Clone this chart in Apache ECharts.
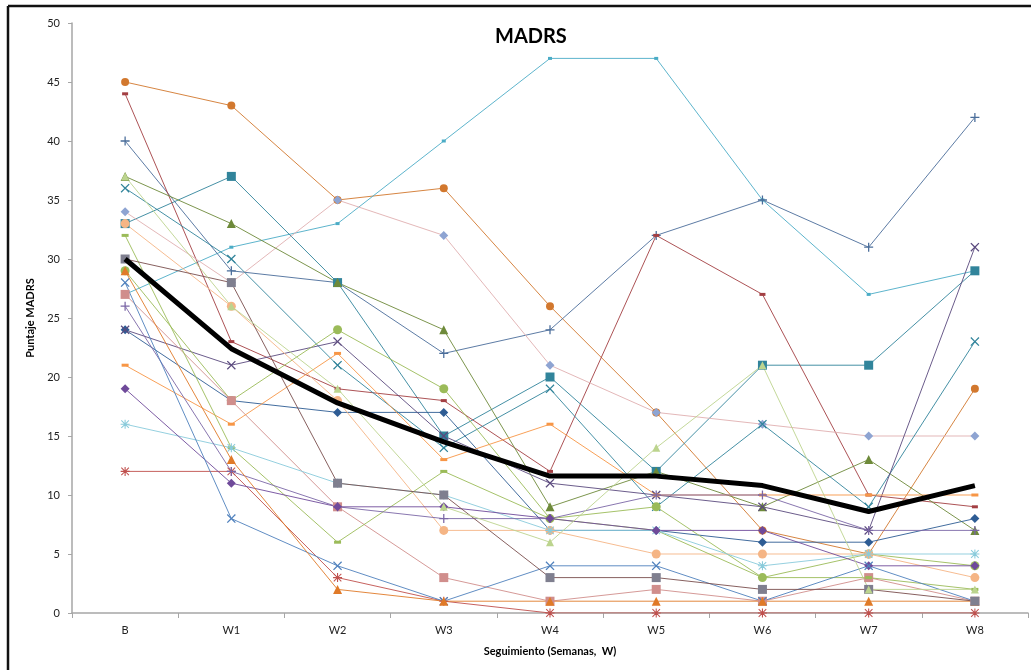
<!DOCTYPE html>
<html>
<head>
<meta charset="utf-8">
<script src="https://cdn.jsdelivr.net/npm/echarts@6/dist/echarts.min.js"></script>
<style>
html,body{margin:0;padding:0;background:#fff;overflow:hidden;}
#chart{width:1031px;height:670px;}
</style>
</head>
<body>
<div id="chart"></div>
<script>
// ---- data ----
const categories = ['B','W1','W2','W3','W4','W5','W6','W7','W8'];
const yTicks = [0,5,10,15,20,25,30,35,40,45,50];

const p01 = [45,43,35,36,26,17,7,5,19];
const p02 = [27,31,33,40,47,47,35,27,29];
const p03 = [40,29,28,22,24,32,35,31,42];
const p04 = [33,37,28,15,20,12,21,21,29];
const p05 = [44,23,19,18,12,32,27,10,9];
const p06 = [34,28,35,32,21,17,16,15,15];
const p07 = [37,33,28,24,9,12,9,13,7];
const p08 = [36,30,21,14,19,9,16,9,23];
const p09 = [24,18,17,17,7,7,6,6,8];
const p10 = [24,21,23,15,11,10,9,7,31];
const p11 = [29,18,24,19,8,9,3,5,4];
const p12 = [27,18,9,3,1,2,1,3,1];
const p13 = [33,26,18,7,7,5,5,5,3];
const p14 = [21,16,22,13,16,10,10,10,10];
const p15 = [32,14,6,12,8,7,3,3,2];
const p16 = [16,14,11,10,7,7,4,5,5];
const p17 = [12,12,3,1,0,0,0,0,0];
const p18 = [26,12,9,8,8,10,10,7,7];
const p19 = [19,11,9,9,8,7,7,4,4];
const p20 = [28,8,4,1,4,4,1,4,1];
const p21 = [29,13,2,1,1,1,1,1,1];
const p22 = [30,28,11,10,3,3,2,2,1];
const p23 = [37,26,19,9,6,14,21,2,2];
const meanValues = [30,22.4,17.8,14.5,11.6,11.6,10.8,8.6,10.8];

const patients = [p01,p02,p03,p04,p05,p06,p07,p08,p09,p10,p11,p12,p13,p14,p15,p16,p17,p18,p19,p20,p21,p22,p23];

// ---- styles ----
const PLUS = 'path://M4.3,0H5.7V4.3H10V5.7H5.7V10H4.3V5.7H0V4.3H4.3Z';
const XS = 'path://M1,0L5,4L9,0L10,1L6,5L10,9L9,10L5,6L1,10L0,9L4,5L0,1Z';
const STAR = 'path://M4.4,0H5.6V4.4H10V5.6H5.6V10H4.4V5.6H0V4.4H4.4ZM1.2,0.4L5,4.2L8.8,0.4L9.6,1.2L5.8,5L9.6,8.8L8.8,9.6L5,5.8L1.2,9.6L0.4,8.8L4.2,5L0.4,1.2Z';
const styles = [
  {c:'#D2782E', s:'circle', z:8},
  {c:'#4BACC6', s:'rect', z:[4,3]},
  {c:'#4A6D9A', s:PLUS, z:9},
  {c:'#31849B', s:'rect', z:9},
  {c:'#A33F43', s:'rect', z:[6,3]},
  {c:'#E0AFB0', s:'diamond', z:9, mc:'#8EA4D2'},
  {c:'#6E8A3A', s:'triangle', z:9},
  {c:'#31849B', s:XS, z:9},
  {c:'#2E5C94', s:'diamond', z:9},
  {c:'#5B4A7E', s:XS, z:9},
  {c:'#9BBB59', s:'circle', z:9},
  {c:'#D08E8C', s:'rect', z:9},
  {c:'#F5B585', s:'circle', z:9},
  {c:'#F79646', s:'rect', z:[7,3]},
  {c:'#9BBB59', s:'rect', z:[7,3]},
  {c:'#8ACBDB', s:STAR, z:9},
  {c:'#C0504D', s:STAR, z:9},
  {c:'#7B67A6', s:PLUS, z:9},
  {c:'#6F4A9A', s:'diamond', z:9},
  {c:'#4F81BD', s:XS, z:9},
  {c:'#E07A28', s:'triangle', z:9},
  {c:'#7A4F4E', s:'rect', z:9, mc:'#7F7F8F'},
  {c:'#BCD48E', s:'triangle', z:8}
];

const series = patients.map((vals, i) => {
  const st = styles[i];
  return {
    type:'line',
    name:'P' + (i+1),
    data: vals,
    symbol: st.s,
    symbolSize: st.z,
    showAllSymbol: true,
    lineStyle:{color: st.c, width:1, opacity:0.9},
    itemStyle:{color: st.mc || st.c},
    emphasis:{disabled:true},
    animation:false,
    z:2
  };
});
series.push({
  type:'line',
  name:'Media',
  data: meanValues,
  symbol:'none',
  lineStyle:{color:'#000', width:5},
  emphasis:{disabled:true},
  animation:false,
  z:5
});

const chart = echarts.init(document.getElementById('chart'), null, {renderer:'canvas'});
chart.setOption({
  backgroundColor:'#fff',
  animation:false,
  title:{
    text:'MADRS', left:490, top:22,
    textStyle:{fontFamily:'Lato', fontWeight:'bold', fontSize:20, color:'#000'}
  },
  graphic:[
    {type:'line', shape:{x1:8, y1:6, x2:1031, y2:6},
     style:{stroke:'#111', lineWidth:2.5}, z:100, silent:true},
    {type:'line', shape:{x1:8, y1:6, x2:8, y2:670},
     style:{stroke:'#111', lineWidth:2.5}, z:100, silent:true}
  ],
  grid:{left:72, right:3, top:23, bottom:57},
  xAxis:{
    type:'category', data: categories, boundaryGap:true,
    name:'Seguimiento (Semanas,  W)', nameLocation:'middle', nameGap:33,
    nameTextStyle:{fontFamily:'Lato', fontWeight:'bold', fontSize:11, color:'#000'},
    axisLine:{lineStyle:{color:'#A6A6A6', width:1.5}},
    axisTick:{show:true, length:5, alignWithLabel:false, lineStyle:{color:'#A6A6A6'}},
    axisLabel:{fontFamily:'Lato', fontSize:11, color:'#222', margin:12},
    splitLine:{show:false}
  },
  yAxis:{
    type:'value', min:0, max:50, interval:5,
    name:'Puntaje MADRS', nameLocation:'middle', nameGap:30, nameRotate:90,
    nameTextStyle:{fontFamily:'Lato', fontWeight:'bold', fontSize:11, color:'#000'},
    axisLine:{show:true, lineStyle:{color:'#A6A6A6', width:1.5}},
    axisTick:{show:true, length:4, lineStyle:{color:'#A6A6A6'}},
    axisLabel:{fontFamily:'Lato', fontSize:11, color:'#222', margin:12,
      formatter: v => yTicks.includes(v) ? String(v) : ''},
    splitLine:{show:false}
  },
  series: series
});
</script>
</body>
</html>
